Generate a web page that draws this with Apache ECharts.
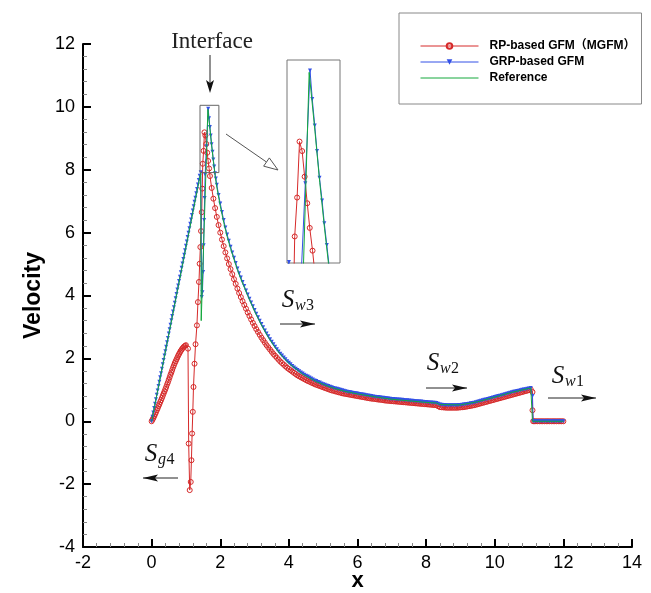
<!DOCTYPE html>
<html><head><meta charset="utf-8">
<script src="https://cdn.jsdelivr.net/npm/echarts/dist/echarts.min.js"></script>
<style>html,body{margin:0;padding:0;background:#fff}#c{width:651px;height:593px}</style>
</head><body><div id="c"></div>
<script>
const xRange = [-2, 14];
const yRange = [-4, 12];
const insetX = [1.41, 1.96];
const insetY = [7.91, 10.05];
const seriesNames = ['RP-based GFM（MGFM）', 'GRP-based GFM', 'Reference'];

// RP-based GFM (MGFM)
const redRare = [[0,0],[0.025,0.05],[0.05,0.1],[0.075,0.16],[0.1,0.22],[0.125,0.28],[0.15,0.35],[0.175,0.41],[0.2,0.48],[0.225,0.54],[0.25,0.61],[0.275,0.67],[0.3,0.74],[0.325,0.81],[0.35,0.88],[0.375,0.95],[0.4,1.02],[0.425,1.09],[0.45,1.17],[0.475,1.24],[0.5,1.32],[0.525,1.4],[0.55,1.48],[0.575,1.55],[0.6,1.63],[0.625,1.71],[0.65,1.78],[0.675,1.85],[0.7,1.91],[0.725,1.97],[0.75,2.03],[0.775,2.09],[0.8,2.14],[0.825,2.19],[0.85,2.24],[0.875,2.28],[0.9,2.32],[0.925,2.35],[0.95,2.38],[0.975,2.4],[1.0,2.42]];
const redJump = [[1.06,2.31],[1.08,-0.71],[1.11,-2.19],[1.14,-1.93],[1.16,-1.24],[1.18,-0.39],[1.20,0.30],[1.22,1.09],[1.25,1.83],[1.28,2.45],[1.32,3.05],[1.35,3.79],[1.38,4.43],[1.40,5.01],[1.42,5.54],[1.44,6.05],[1.46,6.65],[1.475,7.4],[1.49,8.19],[1.515,8.6],[1.54,9.19],[1.567,9.09],[1.593,8.82],[1.62,8.54],[1.646,8.28],[1.675,8.04]];
const redDecay = [[1.70,7.8],[1.75,7.42],[1.80,7.08],[1.85,6.78],[1.90,6.5],[1.95,6.24],[2.00,6.0],[2.05,5.78],[2.10,5.57],[2.15,5.37],[2.20,5.18],[2.25,5.0],[2.30,4.84],[2.35,4.68],[2.40,4.52],[2.45,4.37],[2.50,4.22],[2.55,4.08],[2.60,3.95],[2.65,3.82],[2.70,3.70],[2.75,3.58],[2.80,3.46],[2.85,3.35],[2.90,3.24],[2.95,3.13],[3.00,3.03],[3.05,2.93],[3.10,2.84],[3.15,2.75],[3.20,2.66],[3.25,2.58],[3.30,2.50],[3.35,2.42],[3.40,2.35],[3.45,2.28],[3.50,2.21],[3.55,2.14],[3.60,2.08],[3.65,2.02],[3.70,1.96],[3.75,1.90],[3.80,1.85],[3.85,1.80],[3.90,1.75],[3.95,1.70],[4.00,1.66],[4.05,1.62],[4.10,1.58],[4.15,1.54],[4.20,1.50],[4.25,1.46],[4.30,1.43],[4.35,1.40],[4.40,1.37],[4.45,1.34],[4.50,1.31],[4.55,1.28],[4.60,1.26],[4.65,1.23],[4.70,1.21],[4.75,1.18],[4.80,1.16],[4.85,1.14],[4.90,1.12],[4.95,1.10],[5.00,1.08],[5.05,1.06],[5.10,1.04],[5.15,1.02],[5.20,1.00],[5.25,0.98],[5.30,0.97],[5.35,0.95],[5.40,0.94],[5.45,0.92],[5.50,0.91],[5.55,0.89],[5.60,0.88],[5.65,0.87],[5.70,0.86],[5.75,0.85],[5.80,0.84],[5.85,0.83],[5.90,0.82],[5.95,0.81],[6.00,0.80],[6.05,0.79],[6.10,0.78],[6.15,0.77],[6.20,0.76],[6.25,0.75],[6.30,0.74],[6.35,0.73],[6.40,0.72],[6.45,0.715],[6.50,0.71],[6.55,0.70],[6.60,0.69],[6.65,0.685],[6.70,0.68],[6.75,0.67],[6.80,0.66],[6.85,0.655],[6.90,0.65],[6.95,0.645],[7.00,0.64],[7.05,0.635],[7.10,0.63],[7.15,0.625],[7.20,0.62],[7.25,0.615],[7.30,0.61],[7.35,0.605],[7.40,0.60],[7.45,0.595],[7.50,0.59],[7.55,0.585],[7.60,0.58],[7.65,0.575],[7.70,0.57],[7.75,0.565],[7.80,0.56],[7.85,0.555],[7.90,0.55],[7.95,0.545],[8.00,0.54],[8.05,0.535],[8.10,0.53],[8.15,0.525],[8.20,0.52],[8.25,0.515],[8.30,0.51],[8.35,0.48],[8.40,0.45],[8.45,0.445],[8.50,0.44],[8.55,0.435],[8.60,0.43],[8.65,0.43],[8.70,0.43],[8.75,0.43],[8.80,0.43],[8.85,0.43],[8.90,0.43],[8.95,0.435],[9.00,0.44],[9.05,0.445],[9.10,0.45],[9.15,0.46],[9.20,0.47],[9.25,0.48],[9.30,0.49],[9.35,0.50],[9.40,0.51],[9.45,0.525],[9.50,0.54],[9.55,0.555],[9.60,0.57],[9.65,0.585],[9.70,0.60],[9.75,0.615],[9.80,0.63],[9.85,0.645],[9.90,0.66],[9.95,0.675],[10.00,0.69],[10.05,0.705],[10.10,0.72],[10.15,0.735],[10.20,0.75],[10.25,0.765],[10.30,0.78],[10.35,0.795],[10.40,0.81],[10.45,0.825],[10.50,0.84],[10.55,0.855],[10.60,0.87],[10.65,0.885],[10.70,0.90],[10.75,0.915],[10.80,0.93],[10.85,0.945],[10.90,0.96],[10.95,0.975],[11.00,0.99],[11.05,1.01]];
const redShock = [[11.1,0.93],[11.1,0.35],[11.12,0],[11.15,0],[11.2,0],[11.25,0],[11.3,0],[11.35,0],[11.4,0],[11.45,0],[11.5,0],[11.55,0],[11.6,0],[11.65,0],[11.7,0],[11.75,0],[11.8,0],[11.85,0],[11.9,0],[11.95,0],[12.0,0]];

// GRP-based GFM
const blueRamp = [[0,0],[0.025,0.14],[0.05,0.28],[0.075,0.42],[0.1,0.56],[0.125,0.70],[0.15,0.84],[0.175,0.98],[0.2,1.12],[0.225,1.26],[0.25,1.40],[0.275,1.53],[0.3,1.67],[0.325,1.81],[0.35,1.95],[0.375,2.09],[0.4,2.23],[0.425,2.37],[0.45,2.51],[0.475,2.65],[0.5,2.79],[0.525,2.93],[0.55,3.07],[0.575,3.21],[0.6,3.35],[0.625,3.49],[0.65,3.63],[0.675,3.77],[0.7,3.91],[0.725,4.05],[0.75,4.19],[0.775,4.32],[0.8,4.46],[0.825,4.60],[0.85,4.74],[0.875,4.88],[0.9,5.02],[0.925,5.16],[0.95,5.30],[0.975,5.44],[1.0,5.58],[1.025,5.72],[1.05,5.86],[1.075,6.00],[1.1,6.14],[1.125,6.28],[1.15,6.42],[1.175,6.56],[1.2,6.70],[1.225,6.84],[1.25,6.98],[1.275,7.11],[1.3,7.25],[1.325,7.39],[1.35,7.53],[1.375,7.67],[1.4,7.81],[1.43,7.92]];
const blueJump = [[1.46,3.95],[1.48,4.1],[1.50,4.75],[1.515,5.6],[1.53,6.4],[1.545,7.1],[1.56,7.85],[1.60,8.75],[1.649,9.94],[1.672,9.64],[1.698,9.36],[1.721,9.09],[1.747,8.81],[1.774,8.57],[1.797,8.33],[1.823,8.1],[1.846,7.89],[1.87,7.72],[1.90,7.52],[1.95,7.2]];
const blueDecay = [[2.00,6.93],[2.05,6.66],[2.10,6.40],[2.15,6.16],[2.20,5.94],[2.25,5.74],[2.30,5.55],[2.35,5.37],[2.40,5.20],[2.45,5.03],[2.50,4.86],[2.55,4.71],[2.60,4.57],[2.65,4.43],[2.70,4.30],[2.75,4.16],[2.80,4.03],[2.85,3.90],[2.90,3.78],[2.95,3.66],[3.00,3.54],[3.05,3.42],[3.10,3.31],[3.15,3.20],[3.20,3.09],[3.25,2.99],[3.30,2.89],[3.35,2.79],[3.40,2.70],[3.45,2.61],[3.50,2.53],[3.55,2.45],[3.60,2.37],[3.65,2.29],[3.70,2.22],[3.75,2.15],[3.80,2.09],[3.85,2.03],[3.90,1.97],[3.95,1.91],[4.00,1.86],[4.05,1.81],[4.10,1.76],[4.15,1.71],[4.20,1.67],[4.25,1.63],[4.30,1.59],[4.35,1.55],[4.40,1.52],[4.45,1.48],[4.50,1.45],[4.55,1.42],[4.60,1.39],[4.65,1.36],[4.70,1.33],[4.75,1.30],[4.80,1.28],[4.85,1.25],[4.90,1.23],[4.95,1.20],[5.00,1.18],[5.05,1.16],[5.10,1.14],[5.15,1.12],[5.20,1.10],[5.25,1.08],[5.30,1.06],[5.35,1.045],[5.40,1.03],[5.45,1.015],[5.50,1.00],[5.55,0.985],[5.60,0.97],[5.65,0.955],[5.70,0.94],[5.75,0.93],[5.80,0.92],[5.85,0.91],[5.90,0.90],[5.95,0.89],[6.00,0.88],[6.05,0.87],[6.10,0.86],[6.15,0.85],[6.20,0.84],[6.25,0.83],[6.30,0.82],[6.35,0.81],[6.40,0.80],[6.45,0.79],[6.50,0.78],[6.55,0.775],[6.60,0.77],[6.65,0.76],[6.70,0.75],[6.75,0.745],[6.80,0.74],[6.85,0.73],[6.90,0.72],[6.95,0.715],[7.00,0.71],[7.05,0.705],[7.10,0.70],[7.15,0.695],[7.20,0.69],[7.25,0.685],[7.30,0.68],[7.35,0.675],[7.40,0.67],[7.45,0.665],[7.50,0.66],[7.55,0.655],[7.60,0.65],[7.65,0.645],[7.70,0.64],[7.75,0.635],[7.80,0.63],[7.85,0.625],[7.90,0.62],[7.95,0.615],[8.00,0.61],[8.05,0.605],[8.10,0.60],[8.15,0.595],[8.20,0.59],[8.25,0.585],[8.30,0.58],[8.35,0.555],[8.40,0.53],[8.45,0.525],[8.50,0.52],[8.55,0.515],[8.60,0.51],[8.65,0.51],[8.70,0.51],[8.75,0.51],[8.80,0.51],[8.85,0.51],[8.90,0.51],[8.95,0.515],[9.00,0.52],[9.05,0.525],[9.10,0.53],[9.15,0.54],[9.20,0.55],[9.25,0.56],[9.30,0.57],[9.35,0.58],[9.40,0.59],[9.45,0.605],[9.50,0.62],[9.55,0.635],[9.60,0.65],[9.65,0.665],[9.70,0.68],[9.75,0.695],[9.80,0.71],[9.85,0.725],[9.90,0.74],[9.95,0.755],[10.00,0.77],[10.05,0.785],[10.10,0.80],[10.15,0.815],[10.20,0.83],[10.25,0.845],[10.30,0.86],[10.35,0.875],[10.40,0.89],[10.45,0.905],[10.50,0.92],[10.55,0.935],[10.60,0.95],[10.65,0.96],[10.70,0.97],[10.75,0.985],[10.80,1.00],[10.85,1.01],[10.90,1.02],[10.95,1.03],[11.00,1.04],[11.05,1.06]];
const blueShock = [[11.1,0.8],[11.12,0],[11.15,0],[11.2,0],[11.25,0],[11.3,0],[11.35,0],[11.4,0],[11.45,0],[11.5,0],[11.55,0],[11.6,0],[11.65,0],[11.7,0],[11.75,0],[11.8,0],[11.85,0],[11.9,0],[11.95,0],[12.0,0]];

// Reference
const greenData = [[0,0],[1.43,7.9],[1.445,3.2],[1.64,9.92],[1.70,9.3],[1.75,8.76],[1.80,8.27],[1.85,7.82],[1.9,7.45],[2.0,6.85],[2.1,6.33],[2.2,5.88],[2.3,5.5],[2.4,5.15],[2.5,4.82],[2.6,4.53],[2.8,4.0],[3.0,3.5],[3.2,3.06],[3.4,2.67],[3.6,2.34],[3.8,2.07],[4.0,1.84],[4.4,1.5],[4.8,1.26],[5.2,1.09],[5.6,0.96],[6.0,0.87],[6.5,0.78],[7.0,0.7],[7.5,0.65],[8.0,0.6],[8.3,0.58],[8.4,0.53],[9.0,0.52],[9.5,0.62],[10.0,0.77],[10.5,0.92],[11.05,1.06],[11.1,1.05],[11.1,0],[12.0,0]];

const redData = redRare.concat(redJump, redDecay, redShock);
const blueData = blueRamp.concat(blueJump, blueDecay, blueShock);

const RED = '#d62a2a', BLUE = '#3350e6', GREEN = '#14a83c';

function mkSeries(idx, name, data, kind) {
  const base = {
    name: name, type: 'line', data: data, xAxisIndex: idx, yAxisIndex: idx,
    clip: true, animation: false, showAllSymbol: true, smooth: false,
    emphasis: {disabled: true}
  };
  if (kind === 'red') {
    return Object.assign(base, {
      symbol: 'circle', symbolSize: 5,
      itemStyle: {color: 'rgba(0,0,0,0)', borderColor: RED, borderWidth: 1},
      lineStyle: {color: RED, width: 1}, z: 2
    });
  } else if (kind === 'blue') {
    return Object.assign(base, {
      symbol: 'triangle', symbolRotate: 180, symbolSize: 4,
      itemStyle: {color: BLUE},
      lineStyle: {color: BLUE, width: 1}, z: 3
    });
  }
  return Object.assign(base, {
    symbol: 'none', itemStyle: {color: GREEN},
    lineStyle: {color: GREEN, width: 1}, z: 4
  });
}

const chart = echarts.init(document.getElementById('c'), null, {renderer: 'canvas'});
const font = '"Liberation Sans", Arial, "Noto Sans CJK SC", sans-serif';

chart.setOption({
  animation: false,
  backgroundColor: '#fff',
  grid: [
    {left: 83, right: 19, top: 44, bottom: 46, containLabel: false, outerBoundsMode: 'none'},
    {left: 287, top: 60, width: 53, height: 203, show: true, borderColor: '#777', borderWidth: 1, backgroundColor: '#fff', containLabel: false, outerBoundsMode: 'none'}
  ],
  legend: {
    orient: 'vertical', left: 399, top: 13,
    padding: [26, 6, 19, 21],
    itemWidth: 58, itemHeight: 7, itemGap: 2,
    borderColor: '#888', borderWidth: 1, backgroundColor: '#fff',
    selectedMode: false,
    lineStyle: {width: 1},
    textStyle: {fontSize: 12, fontWeight: 'bold', fontFamily: font, color: '#000', padding: [0, 0, 0, 6], lineHeight: 14},
    data: [
      {name: seriesNames[0]},
      {name: seriesNames[1]},
      {name: seriesNames[2], itemStyle: {color: 'rgba(0,0,0,0)', borderColor: 'rgba(0,0,0,0)', borderWidth: 0}}
    ]
  },
  xAxis: [
    {
      gridIndex: 0, type: 'value', min: xRange[0], max: xRange[1], interval: 2,
      axisLine: {show: true, onZero: false, lineStyle: {color: '#000', width: 2}},
      axisTick: {show: true, inside: true, length: 8, lineStyle: {color: '#000', width: 2}},
      minorTick: {show: true, splitNumber: 5, length: 4, lineStyle: {color: '#888', width: 1}},
      splitLine: {show: false}, minorSplitLine: {show: false},
      axisLabel: {color: '#000', fontSize: 18, fontFamily: font, margin: 7, showMinLabel: true, showMaxLabel: true},
      name: 'x', nameLocation: 'middle', nameGap: 23, nameMoveOverlap: false,
      nameTextStyle: {fontSize: 22, fontWeight: 'bold', color: '#000', fontFamily: font}
    },
    {gridIndex: 1, type: 'value', min: insetX[0], max: insetX[1], show: false}
  ],
  yAxis: [
    {
      gridIndex: 0, type: 'value', min: yRange[0], max: yRange[1], interval: 2,
      axisLine: {show: true, onZero: false, lineStyle: {color: '#000', width: 2}},
      axisTick: {show: true, inside: true, length: 8, lineStyle: {color: '#000', width: 2}},
      minorTick: {show: true, splitNumber: 5, length: 4, lineStyle: {color: '#888', width: 1}},
      splitLine: {show: false}, minorSplitLine: {show: false},
      axisLabel: {color: '#000', fontSize: 18, fontFamily: font, margin: 8, showMinLabel: true, showMaxLabel: true},
      name: 'Velocity', nameLocation: 'middle', nameGap: 38, nameRotate: 90, nameMoveOverlap: false,
      nameTextStyle: {fontSize: 23, fontWeight: 'bold', color: '#000', fontFamily: font}
    },
    {gridIndex: 1, type: 'value', min: insetY[0], max: insetY[1], show: false}
  ],
  series: [
    mkSeries(0, seriesNames[0], redData, 'red'),
    mkSeries(0, seriesNames[1], blueData, 'blue'),
    mkSeries(0, seriesNames[2], greenData, 'green'),
    mkSeries(1, seriesNames[0], redData, 'red'),
    mkSeries(1, seriesNames[1], blueData, 'blue'),
    mkSeries(1, seriesNames[2], greenData, 'green')
  ]
});

// annotations
const p1 = chart.convertToPixel({xAxisIndex: 0, yAxisIndex: 0}, [insetX[0], insetY[1]]);
const p2 = chart.convertToPixel({xAxisIndex: 0, yAxisIndex: 0}, [insetX[1], insetY[0]]);
const serif = '"Liberation Serif", "DejaVu Serif", serif';

function sLabel(x, y, sub, subNum, subW) {
  return [
    {type: 'text', x: x, y: y, z: 100, style: {text: 'S', font: 'italic 25px ' + serif, fill: '#111', align: 'center', verticalAlign: 'middle'}},
    {type: 'text', x: x + 7, y: y + 6, z: 100, style: {text: sub, font: 'italic 16px ' + serif, fill: '#111', align: 'left', verticalAlign: 'middle'}},
    {type: 'text', x: x + 7 + subW, y: y + 6, z: 100, style: {text: subNum, font: '16px ' + serif, fill: '#111', align: 'left', verticalAlign: 'middle'}}
  ];
}
function hArrow(x1, x2, y, dir) {
  const tip = dir > 0 ? x2 : x1;
  const base = tip - dir * 15;
  return [
    {type: 'line', z: 100, shape: {x1: x1, y1: y, x2: x2, y2: y}, style: {stroke: '#222', lineWidth: 1}},
    {type: 'polygon', z: 100, shape: {points: [[tip, y], [base, y - 3.5], [base + dir * 3, y], [base, y + 3.5]]}, style: {fill: '#111'}}
  ];
}

const cx1 = 226, cy1 = 134, tx = 278, ty = 170;
const L = Math.hypot(tx - cx1, ty - cy1), ux = (tx - cx1) / L, uy = (ty - cy1) / L;
const bx = tx - ux * 14, by = ty - uy * 14;

const graphics = [].concat(
  [
    {type: 'text', x: 212, y: 42, z: 100, style: {text: 'Interface', font: '23px ' + serif, fill: '#222', align: 'center', verticalAlign: 'middle'}},
    {type: 'line', z: 100, shape: {x1: 210, y1: 55, x2: 210, y2: 84}, style: {stroke: '#222', lineWidth: 1}},
    {type: 'polygon', z: 100, shape: {points: [[210, 93], [206, 80], [210, 83], [214, 80]]}, style: {fill: '#111'}},
    {type: 'rect', z: 100, shape: {x: p1[0], y: p1[1], width: p2[0] - p1[0], height: p2[1] - p1[1]}, style: {fill: 'none', stroke: '#666', lineWidth: 1}},
    {type: 'line', z: 100, shape: {x1: cx1, y1: cy1, x2: bx, y2: by}, style: {stroke: '#555', lineWidth: 1}},
    {type: 'polygon', z: 100, shape: {points: [[tx, ty], [bx - uy * 5, by + ux * 5], [bx + uy * 5, by - ux * 5]]}, style: {fill: '#fff', stroke: '#555', lineWidth: 1}}
  ],
  sLabel(288, 300, 'w', '3', 11), hArrow(280, 315, 324, 1),
  sLabel(433, 363, 'w', '2', 11), hArrow(426, 467, 388, 1),
  sLabel(558, 376, 'w', '1', 11), hArrow(548, 596, 398, 1),
  sLabel(151, 454, 'g', '4', 8.5), hArrow(143, 178, 478, -1)
);
chart.setOption({graphic: graphics});
</script>
</body></html>
